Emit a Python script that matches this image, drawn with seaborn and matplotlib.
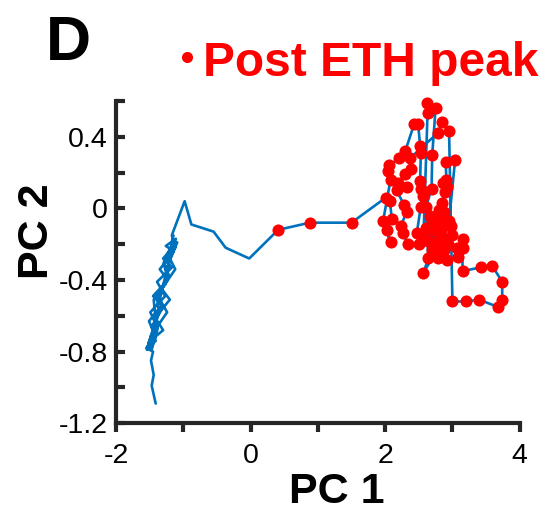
import matplotlib
matplotlib.use("Agg")
import matplotlib.pyplot as plt
from matplotlib.lines import Line2D
import seaborn as sns
import pandas as pd

# Pre-peak trajectory (blue line only)
pre_pc1 = [-1.41, -1.47, -1.44, -1.48, -1.45,
           -1.55, -1.42, -1.51, -1.32, -1.45, -1.23, -1.35, -1.14, -1.26, -1.11,
           -1.20, -1.12, -1.32, -1.20, -1.42, -1.30, -1.52, -1.47,
           -1.38, -1.49, -1.27, -1.39, -1.17, -1.30, -1.09,
           -1.23, -1.35, -1.24, -1.48, -1.54,
           -1.41, -1.44, -1.26, -1.20, -1.15,
           -1.18, -1.29, -1.21, -1.38, -1.30, -1.47, -1.41, -1.51,
           -1.45, -1.36, -1.39, -1.24, -1.29, -1.12, -1.17,
           -0.98, -0.88, -0.55, -0.37, -0.02]
pre_pc2 = [-1.09, -0.99, -0.93, -0.85, -0.80,
           -0.78, -0.71, -0.63, -0.54, -0.49, -0.40, -0.34, -0.24, -0.21, -0.17,
           -0.28, -0.34, -0.45, -0.51, -0.61, -0.68, -0.75, -0.79,
           -0.67, -0.58, -0.49, -0.41, -0.33, -0.28, -0.19,
           -0.32, -0.51, -0.58, -0.71, -0.79,
           -0.62, -0.51, -0.42, -0.28, -0.15,
           -0.21, -0.30, -0.38, -0.48, -0.55, -0.66, -0.74, -0.77,
           -0.69, -0.58, -0.50, -0.38, -0.31, -0.22, -0.15,
           0.04, -0.09, -0.13, -0.22, -0.28]

# Post ETH peak trajectory (red markers)
post_pc1 = [0.41, 0.88, 1.50, 2.01, 2.07, 2.10, 2.03, 2.08, 1.97, 2.08,
            2.04, 2.06, 2.21, 2.30, 2.43, 2.49, 2.52, 2.53, 2.52, 2.54,
            2.56, 2.53, 2.47, 2.51, 2.57, 2.63, 2.62, 2.75, 2.70, 2.69,
            2.61, 2.64, 2.57, 2.74, 2.71, 2.74, 2.80, 2.84, 2.89, 2.92,
            2.86, 2.91, 2.90, 3.04, 2.95, 2.98, 2.99, 2.94, 2.92, 3.08,
            3.07, 3.15, 3.15, 3.15, 3.42, 3.59, 3.74, 3.74, 3.67, 3.40,
            3.20, 3.00, 2.95, 2.85, 2.78, 2.37, 2.39, 2.29, 2.19, 2.33,
            2.17, 2.28, 2.32, 2.23, 2.26, 2.34, 2.69, 2.77, 2.70, 2.81,
            2.79, 2.64, 2.87, 2.78, 2.67, 2.84, 2.75, 2.61, 2.90, 2.81,
            2.70, 2.87]
post_pc2 = [-0.12, -0.08, -0.08, 0.06, 0.04, -0.06, -0.12, -0.19, -0.07, 0.16,
            0.21, 0.24, 0.28, 0.32, 0.47, 0.47, 0.35, 0.31, 0.15, 0.11,
            0.07, 0.01, -0.14, -0.20, -0.16, 0.53, 0.59, 0.56, 0.30, 0.11,
            0.01, -0.28, -0.36, -0.25, -0.12, -0.05, -0.01, 0.03, 0.09, 0.12,
            0.14, 0.16, 0.26, 0.27, -0.07, -0.10, -0.15, -0.20, -0.29, -0.27,
            -0.22, -0.17, -0.22, -0.35, -0.33, -0.32, -0.41, -0.51, -0.55, -0.51,
            -0.52, -0.52, 0.43, 0.48, 0.42, 0.28, 0.22, 0.19, 0.14, 0.12,
            0.10, 0.02, -0.02, -0.10, -0.14, -0.20, -0.20, -0.18, -0.08, -0.13,
            -0.07, -0.18, -0.23, -0.28, -0.04, -0.11, -0.21, -0.11, -0.17, -0.07,
            -0.23, -0.02]

x_major = [-2, 0, 2, 4]
x_minor = [-1, 1, 3]
y_major = [-1.2, -0.8, -0.4, 0, 0.4]
y_major_labels = ["-1.2", "-0.8", "-0.4", "0", "0.4"]
y_minor = [-1.0, -0.6, -0.2, 0.2, 0.6]

sns.set_theme(style="ticks")
plt.rcParams["font.family"] = ["Liberation Sans", "DejaVu Sans"]
plt.rcParams["axes.unicode_minus"] = False

BLUE = "#0072BD"
RED = "#FF0000"
DARK = "#262626"

traj = pd.DataFrame({
    "PC1": pre_pc1 + post_pc1,
    "PC2": pre_pc2 + post_pc2,
})
post = pd.DataFrame({"PC1": post_pc1, "PC2": post_pc2})

fig = plt.figure(figsize=(5.47, 5.16), dpi=100)
ax = fig.add_axes([0.2121, 0.1797, 0.7380, 0.6248])

sns.lineplot(data=traj, x="PC1", y="PC2", sort=False, estimator=None,
             color=BLUE, linewidth=1.9, ax=ax, zorder=2)
sns.scatterplot(data=post, x="PC1", y="PC2", color=RED, s=76, linewidth=0,
                ax=ax, zorder=3, clip_on=False)

ax.set_xlim(-2, 4)
ax.set_ylim(-1.2, 0.6)
ax.set_xticks(x_major)
ax.set_xticklabels([str(v) for v in x_major])
ax.set_xticks(x_minor, minor=True)
ax.set_yticks(y_major)
ax.set_yticklabels(y_major_labels)
ax.set_yticks(y_minor, minor=True)

for s in ["top", "right"]:
    ax.spines[s].set_visible(False)
for s in ["left", "bottom"]:
    ax.spines[s].set_linewidth(3)
    ax.spines[s].set_color(DARK)

ax.tick_params(axis="x", which="both", direction="out", length=6.5, width=3,
               color=DARK, labelsize=20.5, pad=7.5, labelcolor="black")
ax.tick_params(axis="y", which="both", direction="in", length=6.5, width=3,
               color=DARK, labelsize=20.5, pad=6, labelcolor="black")

ax.set_xlabel("PC 1", fontsize=31, fontweight="bold", color="black")
ax.set_ylabel("PC 2", fontsize=31, fontweight="bold", color="black")
ax.xaxis.label.set_va("baseline")
ax.xaxis.set_label_coords(0.547, -0.247)
ax.yaxis.label.set_va("baseline")
ax.yaxis.label.set_ha("center")
ax.yaxis.set_label_coords(-0.168, 0.596)

fig.text(0.084, 1 - 60 / 516, "D", fontsize=45, fontweight="bold",
         color="black", va="baseline", ha="left")
fig.text(0.372, 1 - 76.5 / 516, "Post ETH peak", fontsize=34.5,
         fontweight="bold", color=RED, va="baseline", ha="left")
fig.add_artist(Line2D([0.3426], [1 - 57.4 / 516], marker="o", markersize=8,
                      color=RED, markeredgewidth=0, linestyle="none",
                      transform=fig.transFigure))

fig.savefig("out.png", dpi=100)
